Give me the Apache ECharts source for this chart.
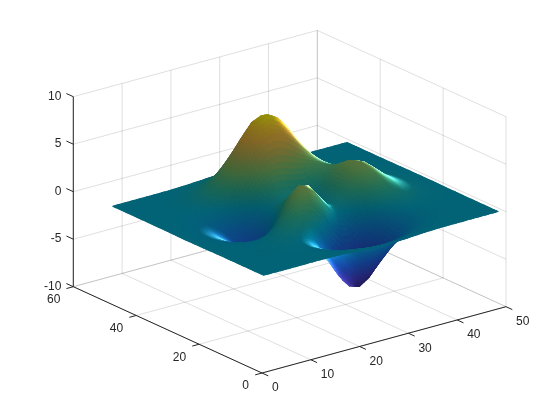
<!DOCTYPE html>
<html>
<head>
<meta charset="utf-8">
<style>html,body{margin:0;padding:0;background:#fff}#c{width:560px;height:420px}</style>
<script src="https://cdn.jsdelivr.net/npm/echarts@6/dist/echarts.min.js"></script>
</head>
<body>
<div id="c"></div>
<script>
// Tick labels
const xTicks = [0, 10, 20, 30, 40, 50];
const yTicks = [0, 20, 40, 60];
const zTicks = [-10, -5, 0, 5, 10];

// Sample positions of the surface along x and y
const gridX = [1,3,5,7,9,11,13,15,17,19,21,23,25,27,29,31,33,35,37,39,41,43,45,47,49];
const gridY = [1,3,5,7,9,11,13,15,17,19,21,23,25,27,29,31,33,35,37,39,41,43,45,47,49];

// Surface heights, one row per gridY value
const surfaceZ = [
[0,0,0,0,0,.01,.01,-.01,-.03,-.08,-.14,-.2,-.25,-.25,-.22,-.17,-.11,-.06,-.03,-.01,-.01,0,0,0,0],
[0,0,0,0,.01,.01,0,-.03,-.1,-.22,-.39,-.56,-.68,-.7,-.61,-.46,-.3,-.17,-.08,-.03,-.01,0,0,0,0],
[0,0,0,.01,.02,.02,0,-.07,-.23,-.53,-.92,-1.31,-1.57,-1.61,-1.41,-1.06,-.69,-.38,-.19,-.08,-.03,-.01,0,0,0],
[0,0,.01,.01,.03,.04,.01,-.12,-.44,-1,-1.74,-2.51,-3.02,-3.1,-2.72,-2.05,-1.32,-.74,-.35,-.14,-.05,-.01,0,0,0],
[0,0,.01,.02,.05,.07,.05,-.13,-.59,-1.45,-2.64,-3.88,-4.76,-4.93,-4.35,-3.27,-2.1,-1.15,-.53,-.2,-.06,-.01,0,0,0],
[0,0,.01,.03,.07,.13,.15,.02,-.46,-1.48,-3.01,-4.7,-5.98,-6.33,-5.64,-4.24,-2.69,-1.42,-.61,-.2,-.05,0,.01,0,0],
[0,0,.01,.03,.08,.19,.33,.39,.15,-.68,-2.18,-4.07,-5.68,-6.32,-5.76,-4.31,-2.63,-1.27,-.44,-.07,.04,.05,.03,.01,0],
[0,-.01,-.01,-.01,.03,.17,.45,.84,1.11,.88,-.14,-1.85,-3.61,-4.61,-4.4,-3.23,-1.74,-.56,.08,.27,.23,.13,.06,.02,.01],
[-.01,-.03,-.06,-.1,-.13,-.04,.3,.98,1.86,2.45,2.23,1,-.72,-2.02,-2.22,-1.43,-.27,.58,.88,.77,.5,.26,.11,.04,.01],
[-.02,-.05,-.12,-.26,-.42,-.51,-.28,.49,1.78,3.09,3.63,2.94,1.4,-.01,-.41,.2,1.18,1.79,1.78,1.35,.82,.41,.18,.06,.02],
[-.03,-.08,-.2,-.44,-.8,-1.16,-1.21,-.6,.8,2.49,3.55,3.31,2,.7,.39,1.14,2.2,2.76,2.56,1.88,1.12,.56,.24,.09,.03],
[-.03,-.1,-.27,-.6,-1.14,-1.78,-2.16,-1.84,-.56,1.23,2.56,2.63,1.58,.53,.48,1.5,2.76,3.37,3.09,2.25,1.34,.67,.28,.1,.03],
[-.04,-.11,-.3,-.69,-1.33,-2.14,-2.77,-2.71,-1.65,.06,1.48,1.75,.98,.19,.38,1.57,2.94,3.58,3.27,2.37,1.41,.7,.3,.11,.03],
[-.04,-.11,-.29,-.68,-1.32,-2.16,-2.87,-2.98,-2.15,-.65,.68,1.06,.52,-.03,.28,1.47,2.76,3.36,3.06,2.22,1.32,.66,.28,.1,.03],
[-.03,-.09,-.25,-.57,-1.12,-1.85,-2.49,-2.64,-2,-.76,.39,.8,.46,.09,.38,1.34,2.38,2.83,2.56,1.85,1.09,.55,.23,.08,.03],
[-.02,-.07,-.18,-.42,-.82,-1.33,-1.76,-1.78,-1.16,-.05,1.04,1.55,1.42,1.12,1.17,1.65,2.17,2.32,1.99,1.4,.82,.41,.17,.06,.02],
[-.01,-.04,-.11,-.25,-.48,-.74,-.86,-.6,.23,1.51,2.79,3.59,3.69,3.34,2.94,2.66,2.44,2.09,1.58,1.04,.58,.28,.11,.04,.01],
[-.01,-.02,-.06,-.12,-.2,-.22,-.05,.55,1.7,3.29,4.92,6.07,6.39,5.94,5.02,3.97,2.97,2.09,1.36,.79,.41,.19,.07,.03,.01],
[0,-.01,-.02,-.03,-.01,.11,.48,1.27,2.61,4.37,6.19,7.54,8.1,7.48,6.25,4.72,3.25,2.05,1.18,.62,.29,.12,.05,.02,0],
[0,0,0,.01,.07,.24,.65,1.43,2.67,4.29,5.96,7.22,7.68,7.2,5.99,4.45,2.96,1.78,.96,.47,.21,.08,.03,.01,0],
[0,0,.01,.02,.08,.23,.55,1.16,2.1,3.31,4.56,5.51,5.86,5.5,4.57,3.37,2.21,1.29,.68,.32,.13,.05,.02,.01,0],
[0,0,.01,.02,.06,.16,.36,.74,1.32,2.07,2.84,3.43,3.65,3.43,2.84,2.09,1.36,.79,.41,.19,.08,.03,.01,0,0],
[0,0,0,.01,.03,.08,.19,.39,.69,1.07,1.47,1.77,1.89,1.77,1.47,1.08,.7,.4,.21,.09,.04,.01,0,0,0],
[0,0,0,.01,.01,.04,.08,.17,.3,.47,.64,.77,.82,.77,.64,.47,.3,.17,.09,.04,.02,.01,0,0,0],
[0,0,0,0,.01,.01,.03,.06,.11,.17,.23,.28,.3,.28,.23,.17,.11,.06,.03,.01,.01,0,0,0,0]
];

// Colormap stops
const colorStops = [0, .12, .25, .35, .447, .55, .65, .75, .85, .93, 1];
const colorValues = [[53,42,135],[62,62,190],[30,100,220],[15,135,215],[6,167,198],[50,185,150],[120,195,110],[190,188,90],[245,190,70],[252,210,45],[249,251,14]];
const colorRange = [-6.55, 8.1];

// Axis box extents and view
const xRange = [0, 50], yRange = [0, 60], zRange = [-10, 10];
const origin = [262, 373];
const xSpan = [244, -66.3], ySpan = [-188.7, -86.3], zSpan = [0, -190];

function project(x, y, z) {
  const a = (x - xRange[0]) / (xRange[1] - xRange[0]);
  const b = (y - yRange[0]) / (yRange[1] - yRange[0]);
  const c = (z - zRange[0]) / (zRange[1] - zRange[0]);
  return [origin[0] + a * xSpan[0] + b * ySpan[0] + c * zSpan[0],
          origin[1] + a * xSpan[1] + b * ySpan[1] + c * zSpan[1]];
}

// Lighting parameters
const norm = v => { const l = Math.hypot(v[0], v[1], v[2]); return [v[0]/l, v[1]/l, v[2]/l]; };
const viewDir = norm([-1, -1.552, 0.3726]);
const lightDir = norm([0.5, -0.2, 1]);
const ambient = 0.45, diffuse = 0.17, backBoost = 1.1;
const rimWide = 0.62, rimNarrow = 0.3, rimGlow = 1.1, rimWhite = 0.55;

const nx = gridX.length, ny = gridY.length;
const slopeX = [], slopeY = [];
for (let j = 0; j < ny; j++) {
  slopeX.push([]); slopeY.push([]);
  for (let i = 0; i < nx; i++) {
    const i0 = Math.max(0, i - 1), i1 = Math.min(nx - 1, i + 1);
    const j0 = Math.max(0, j - 1), j1 = Math.min(ny - 1, j + 1);
    slopeX[j].push((surfaceZ[j][i1] - surfaceZ[j][i0]) / (gridX[i1] - gridX[i0]));
    slopeY[j].push((surfaceZ[j1][i] - surfaceZ[j0][i]) / (gridY[j1] - gridY[j0]));
  }
}
function bilerp(m, i, j, s, t) {
  return (1-s)*(1-t)*m[j][i] + s*(1-t)*m[j][i+1] + (1-s)*t*m[j+1][i] + s*t*m[j+1][i+1];
}
function shade(i, j, s, t) {
  const z = bilerp(surfaceZ, i, j, s, t);
  const n = norm([-bilerp(slopeX, i, j, s, t), -bilerp(slopeY, i, j, s, t), 1]);
  const nv = n[0]*viewDir[0] + n[1]*viewDir[1] + n[2]*viewDir[2];
  const u = Math.min(0.9999, Math.max(0, (z - colorRange[0]) / (colorRange[1] - colorRange[0])));
  let k = 0;
  while (k < colorStops.length - 2 && u >= colorStops[k + 1]) k++;
  const f = (u - colorStops[k]) / (colorStops[k + 1] - colorStops[k]);
  const base = [0,1,2].map(c => colorValues[k][c] * (1-f) + colorValues[k+1][c] * f);
  const nl = Math.abs(n[0]*lightDir[0] + n[1]*lightDir[1] + n[2]*lightDir[2]);
  let lit = ambient + diffuse * nl;
  if (nv < 0) lit *= backBoost;
  const side = Math.min(1, Math.max(0, (n[0] - 0.16) / 0.2));
  const a = Math.abs(nv);
  const wide = side * Math.pow(Math.max(0, 1 - a / rimWide), 2);
  const narrow = side * Math.pow(Math.max(0, 1 - a / rimNarrow), 2);
  const sp = rimWhite * 255 * narrow;
  const out = base.map(c => Math.min(255, Math.round(c * lit * (1 + rimGlow * wide) + sp)));
  return 'rgb(' + out[0] + ',' + out[1] + ',' + out[2] + ')';
}

// Line segments of the grid on the back walls and floor
const gridSegments = [];
zTicks.forEach(z => {
  gridSegments.push([xRange[0], yRange[1], z, xRange[1], yRange[1], z]);
  gridSegments.push([xRange[1], yRange[0], z, xRange[1], yRange[1], z]);
});
xTicks.forEach(x => {
  gridSegments.push([x, yRange[1], zRange[0], x, yRange[1], zRange[1]]);
  gridSegments.push([x, yRange[0], zRange[0], x, yRange[1], zRange[0]]);
});
yTicks.forEach(y => {
  gridSegments.push([xRange[1], y, zRange[0], xRange[1], y, zRange[1]]);
  gridSegments.push([xRange[0], y, zRange[0], xRange[1], y, zRange[0]]);
});

// Axis lines and tick marks (tick length given in axis units)
const axisSegments = [
  [xRange[0], yRange[0], zRange[0], xRange[1], yRange[0], zRange[0]],
  [xRange[0], yRange[0], zRange[0], xRange[0], yRange[1], zRange[0]],
  [xRange[0], yRange[1], zRange[0], xRange[0], yRange[1], zRange[1]]
];
xTicks.forEach(x => axisSegments.push([x, 0, -10, x, -2, -10]));
yTicks.forEach(y => axisSegments.push([0, y, -10, -1.4, y, -10]));
zTicks.forEach(z => axisSegments.push([0, 60, z, 0, 62.2, z]));

// Tick labels: anchor in axis space, pixel offset from it
const labelItems = [];
xTicks.forEach(x => labelItems.push({ t: String(x), p: [x, 0, -10], d: [10, 15], a: 'left' }));
yTicks.forEach(y => labelItems.push({ t: String(y), p: [0, y, -10], d: [-13, 13], a: 'right' }));
zTicks.forEach(z => labelItems.push({ t: String(z), p: [0, 60, z], d: [-12, -0.5], a: 'right' }));

// Quads far to near
const quads = [];
for (let j = ny - 2; j >= 0; j--) for (let i = nx - 2; i >= 0; i--) quads.push([i, j]);

const SUB = 4;
const chart = echarts.init(document.getElementById('c'), null, { renderer: 'canvas' });

function segRender(color, width) {
  return function (params, api) {
    const a = project(api.value(0), api.value(1), api.value(2));
    const b = project(api.value(3), api.value(4), api.value(5));
    const p = api.coord(a), q = api.coord(b);
    return { type: 'line', silent: true,
      shape: { x1: p[0], y1: p[1], x2: q[0], y2: q[1] },
      style: { stroke: color, lineWidth: width, fill: null } };
  };
}

chart.setOption({
  animation: false,
  backgroundColor: '#ffffff',
  tooltip: { show: false },
  grid: { left: 0, right: 0, top: 0, bottom: 0 },
  xAxis: { type: 'value', min: 0, max: 560, show: false },
  yAxis: { type: 'value', min: 0, max: 420, inverse: true, show: false },
  series: [
    { type: 'custom', name: 'grid', z: 1, silent: true, clip: false, progressive: 0,
      data: gridSegments, renderItem: segRender('rgba(38,38,38,0.15)', 1) },
    { type: 'custom', name: 'surface', z: 2, silent: true, clip: false, progressive: 0,
      data: quads,
      renderItem: function (params, api) {
        const i = api.value(0), j = api.value(1);
        const c00 = project(gridX[i], gridY[j], surfaceZ[j][i]);
        const c10 = project(gridX[i+1], gridY[j], surfaceZ[j][i+1]);
        const c01 = project(gridX[i], gridY[j+1], surfaceZ[j+1][i]);
        const c11 = project(gridX[i+1], gridY[j+1], surfaceZ[j+1][i+1]);
        const pt = (s, t) => api.coord([
          (1-s)*(1-t)*c00[0] + s*(1-t)*c10[0] + (1-s)*t*c01[0] + s*t*c11[0],
          (1-s)*(1-t)*c00[1] + s*(1-t)*c10[1] + (1-s)*t*c01[1] + s*t*c11[1]]);
        const children = [];
        for (let b = SUB - 1; b >= 0; b--) for (let a = SUB - 1; a >= 0; a--) {
          const s0 = a / SUB, s1 = (a + 1) / SUB, t0 = b / SUB, t1 = (b + 1) / SUB;
          const col = shade(i, j, (s0 + s1) / 2, (t0 + t1) / 2);
          children.push({ type: 'polygon', silent: true,
            shape: { points: [pt(s0, t0), pt(s1, t0), pt(s1, t1), pt(s0, t1)] },
            style: { fill: col, stroke: col, lineWidth: 1.1, lineJoin: 'round' } });
        }
        return { type: 'group', silent: true, children };
      } },
    { type: 'custom', name: 'axes', z: 3, silent: true, clip: false, progressive: 0,
      data: axisSegments, renderItem: segRender('#262626', 1) },
    { type: 'custom', name: 'labels', z: 4, silent: true, clip: false, progressive: 0,
      data: labelItems.map((l, k) => [k]),
      renderItem: function (params, api) {
        const l = labelItems[api.value(0)];
        const a = api.coord(project(l.p[0], l.p[1], l.p[2]));
        return { type: 'text', silent: true,
          style: { text: l.t, x: a[0] + l.d[0], y: a[1] + l.d[1], align: l.a, verticalAlign: 'middle',
                   fill: '#262626', font: '12px "Liberation Sans", Arial, sans-serif' } };
      } }
  ]
});
</script>
</body>
</html>
